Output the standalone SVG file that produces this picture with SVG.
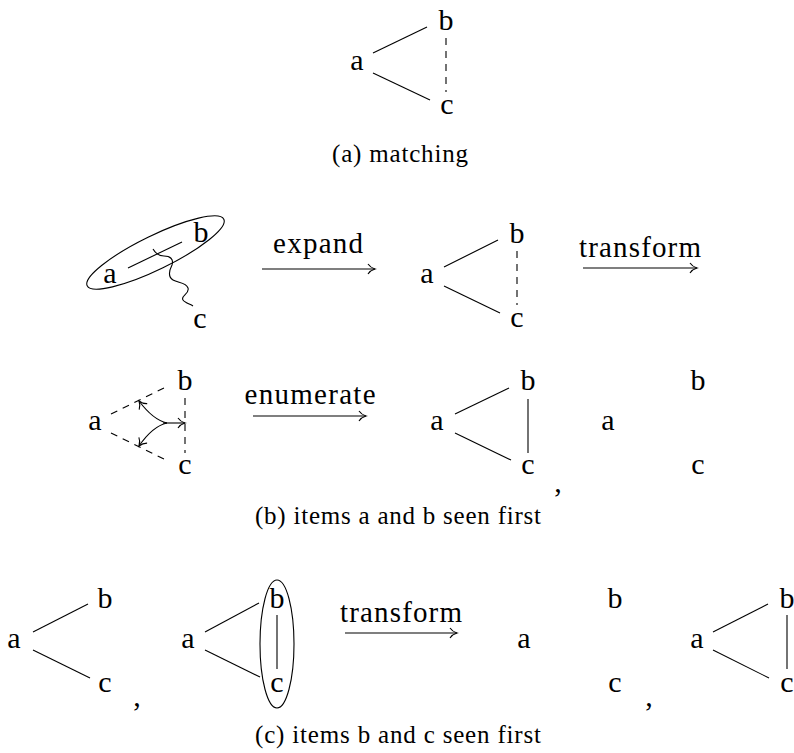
<svg xmlns="http://www.w3.org/2000/svg" width="794" height="753" viewBox="0 0 794 753">
<style>
text{font-family:"Liberation Serif","Times New Roman",serif;fill:#000;text-anchor:middle}
.n{font-size:30px}
.lbl{font-size:29px}
.cap{font-size:25px}
.e{stroke:#000;stroke-width:1.1;fill:none}
.d{stroke-dasharray:7 6}
</style>
<defs>
<marker id="to" viewBox="-10 -6 12 12" refX="0" refY="0" markerWidth="12" markerHeight="12" markerUnits="userSpaceOnUse" orient="auto">
<path d="M-7,-5 C-5,-2 -2,-0.6 0,0 C-2,0.6 -5,2 -7,5" fill="none" stroke="#000" stroke-width="1.1"/>
</marker>
</defs>
<rect width="794" height="753" fill="#fff"/>

<g id="connectors">
<!-- (a) -->
<line class="e" x1="373" y1="53" x2="427" y2="27"/>
<line class="e" x1="373" y1="73" x2="430" y2="100"/>
<line class="e d" x1="446" y1="38" x2="446" y2="92"/>
<!-- row 1 -->
<ellipse class="e" cx="155.5" cy="252.5" rx="76" ry="17" transform="rotate(-26 155.5 252.5)"/>
<line class="e" x1="128" y1="268" x2="182" y2="242"/>
<path class="e" d="M153,249 C156,254 160,256 164,256 C170,256 174,259 172,265 C169,271 168,277 173,280 C178,283 186,282 188,288 C190,294 180,296 183,300 C185,303 190,304 193,306"/>
<line class="e" x1="262" y1="269" x2="375" y2="269" marker-end="url(#to)"/>
<line class="e" x1="444" y1="267" x2="498" y2="240"/>
<line class="e" x1="444" y1="286" x2="500" y2="313"/>
<line class="e d" x1="517" y1="251" x2="517" y2="305"/>
<line class="e" x1="583" y1="268" x2="697" y2="268" marker-end="url(#to)"/>
<!-- row 2 -->
<line class="e d" x1="111" y1="414" x2="164" y2="388"/>
<line class="e d" x1="111" y1="433" x2="166" y2="460"/>
<line class="e d" x1="185" y1="398" x2="185" y2="453"/>
<path class="e" d="M167,423 C158,421 148,413 139,401" marker-end="url(#to)"/>
<path class="e" d="M167,423 C158,425 148,433 139,446" marker-end="url(#to)"/>
<line class="e" x1="163" y1="423" x2="185" y2="423" marker-end="url(#to)"/>
<line class="e" x1="253" y1="416" x2="366" y2="416" marker-end="url(#to)"/>
<line class="e" x1="455" y1="414" x2="509" y2="388"/>
<line class="e" x1="455" y1="433" x2="511" y2="460"/>
<line class="e" x1="528" y1="399" x2="528" y2="453"/>
<!-- row 3 -->
<line class="e" x1="33" y1="632" x2="88" y2="604"/>
<line class="e" x1="33" y1="650" x2="90" y2="678"/>
<line class="e" x1="205" y1="632" x2="259" y2="603"/>
<line class="e" x1="205" y1="650" x2="260" y2="677"/>
<line class="e" x1="277" y1="615" x2="277" y2="669"/>
<ellipse class="e" cx="277" cy="644" rx="17" ry="64"/>
<line class="e" x1="345" y1="633" x2="457" y2="633" marker-end="url(#to)"/>
<line class="e" x1="713" y1="632" x2="768" y2="604"/>
<line class="e" x1="713" y1="650" x2="769" y2="678"/>
<line class="e" x1="787" y1="615" x2="787" y2="669"/>
</g>

<!-- (a) matching -->
<g id="m-a"><text class="n" x="357" y="70">a</text></g>
<g id="m-b"><text class="n" x="446" y="30">b</text></g>
<g id="m-c"><text class="n" x="447" y="114">c</text></g>
<g id="cap-a"><text class="cap" x="400" y="162" textLength="136" lengthAdjust="spacing">(a) matching</text></g>

<!-- row 1 -->
<g id="r1a-a"><text class="n" x="110" y="283">a</text></g>
<g id="r1a-b"><text class="n" x="201" y="242">b</text></g>
<g id="r1a-c"><text class="n" x="200" y="328">c</text></g>
<g id="lbl-expand"><text class="lbl" x="318" y="253" textLength="90" lengthAdjust="spacing">expand</text></g>
<g id="r1b-a"><text class="n" x="427" y="283">a</text></g>
<g id="r1b-b"><text class="n" x="517" y="243">b</text></g>
<g id="r1b-c"><text class="n" x="517" y="327">c</text></g>
<g id="lbl-transform1"><text class="lbl" x="640" y="257" textLength="122" lengthAdjust="spacing">transform</text></g>

<!-- row 2 -->
<g id="r2a-a"><text class="n" x="95" y="430">a</text></g>
<g id="r2a-b"><text class="n" x="185" y="390">b</text></g>
<g id="r2a-c"><text class="n" x="185" y="474">c</text></g>
<g id="lbl-enumerate"><text class="lbl" x="310" y="404" textLength="131" lengthAdjust="spacing">enumerate</text></g>
<g id="r2b-a"><text class="n" x="437" y="430">a</text></g>
<g id="r2b-b"><text class="n" x="528" y="390">b</text></g>
<g id="r2b-c"><text class="n" x="528" y="474">c</text></g>
<g id="comma1"><text class="n" x="558" y="492">,</text></g>
<g id="r2c-a"><text class="n" x="608" y="430">a</text></g>
<g id="r2c-b"><text class="n" x="698" y="390">b</text></g>
<g id="r2c-c"><text class="n" x="698" y="474">c</text></g>
<g id="cap-b"><text class="cap" x="398" y="524" textLength="286" lengthAdjust="spacing">(b) items a and b seen first</text></g>

<!-- row 3 -->
<g id="r3a-a"><text class="n" x="14" y="648">a</text></g>
<g id="r3a-b"><text class="n" x="105" y="608">b</text></g>
<g id="r3a-c"><text class="n" x="105" y="692">c</text></g>
<g id="comma2"><text class="n" x="137" y="706">,</text></g>
<g id="r3b-a"><text class="n" x="188" y="648">a</text></g>
<g id="r3b-b"><text class="n" x="277" y="608">b</text></g>
<g id="r3b-c"><text class="n" x="277" y="692">c</text></g>
<g id="lbl-transform2"><text class="lbl" x="401" y="622" textLength="122" lengthAdjust="spacing">transform</text></g>
<g id="r3c-a"><text class="n" x="524" y="648">a</text></g>
<g id="r3c-b"><text class="n" x="615" y="608">b</text></g>
<g id="r3c-c"><text class="n" x="615" y="692">c</text></g>
<g id="comma3"><text class="n" x="649" y="706">,</text></g>
<g id="r3d-a"><text class="n" x="697" y="648">a</text></g>
<g id="r3d-b"><text class="n" x="787" y="608">b</text></g>
<g id="r3d-c"><text class="n" x="787" y="692">c</text></g>
<g id="cap-c"><text class="cap" x="398" y="743" textLength="286" lengthAdjust="spacing">(c) items b and c seen first</text></g>
</svg>
